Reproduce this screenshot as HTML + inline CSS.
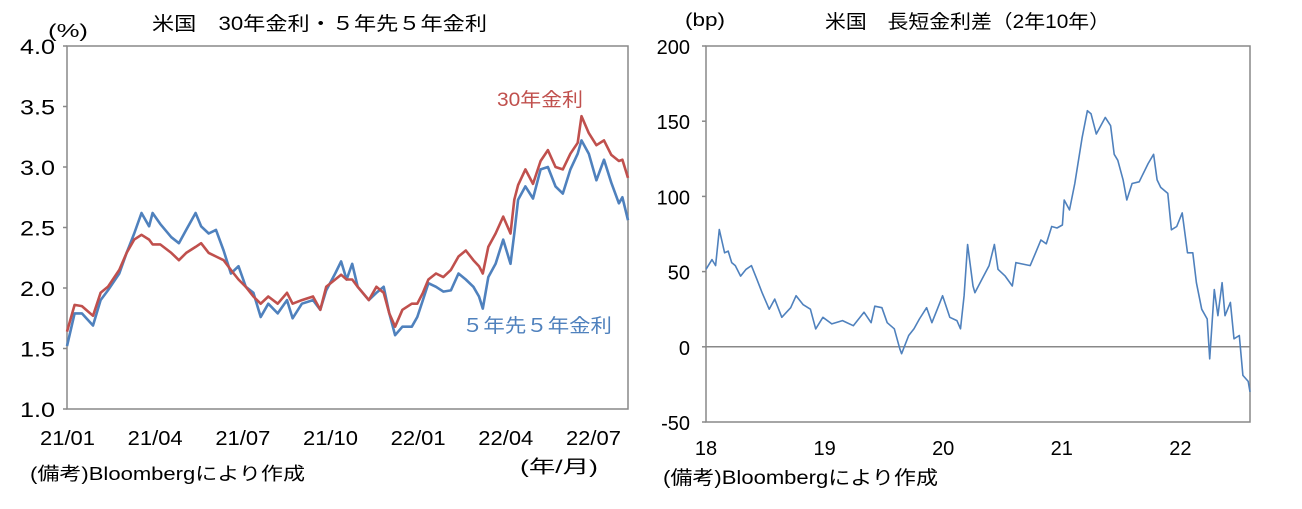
<!DOCTYPE html>
<html><head><meta charset="utf-8">
<style>
body{margin:0;background:#fff;width:1302px;height:504px;overflow:hidden;font-family:"Liberation Sans","Noto Sans CJK JP",sans-serif;}
svg text{font-family:"Liberation Sans","Noto Sans CJK JP",sans-serif;fill:#000;}
</style></head><body>
<svg id="c" width="1302" height="504">
<g id="left"></g>
<g id="right"></g>
</svg>
<script>
// Left chart data (months since 2021/01)
const leftMonths=[0,.26,.51,.89,1.15,1.40,1.79,2.04,2.30,2.55,2.81,2.93,3.19,3.57,3.83,4.08,4.40,4.59,4.85,5.10,5.36,5.61,5.87,6.12,6.38,6.63,6.89,7.21,7.53,7.72,8.04,8.42,8.67,8.87,9.18,9.38,9.57,9.76,9.95,10.33,10.59,10.84,11.03,11.23,11.48,11.80,11.99,12.18,12.37,12.63,12.88,13.14,13.40,13.65,13.91,14.10,14.23,14.42,14.67,14.93,15.18,15.31,15.44,15.69,15.95,16.21,16.46,16.72,16.97,17.23,17.48,17.61,17.86,18.12,18.38,18.63,18.89,19.01,19.20];
const fwd5y5y=[1.52,1.79,1.79,1.69,1.90,1.98,2.12,2.29,2.45,2.62,2.51,2.62,2.53,2.42,2.37,2.48,2.62,2.51,2.45,2.48,2.31,2.12,2.18,2.01,1.96,1.76,1.87,1.79,1.90,1.75,1.87,1.90,1.82,1.98,2.12,2.22,2.07,2.20,2.01,1.90,1.96,2.01,1.79,1.61,1.68,1.68,1.76,1.90,2.04,2.01,1.97,1.98,2.12,2.07,2.01,1.93,1.83,2.09,2.20,2.40,2.20,2.45,2.73,2.84,2.74,2.98,3.00,2.84,2.78,2.98,3.11,3.22,3.11,2.89,3.06,2.87,2.70,2.75,2.56];
const yield30y=[1.64,1.86,1.85,1.77,1.96,2.01,2.15,2.29,2.40,2.44,2.40,2.36,2.36,2.29,2.23,2.29,2.34,2.37,2.29,2.26,2.23,2.15,2.07,2.01,1.93,1.87,1.93,1.87,1.96,1.87,1.90,1.93,1.82,2.01,2.07,2.11,2.07,2.07,2.01,1.90,2.01,1.96,1.79,1.68,1.82,1.87,1.87,1.96,2.07,2.12,2.09,2.15,2.26,2.31,2.23,2.18,2.12,2.34,2.45,2.59,2.45,2.73,2.85,2.98,2.86,3.05,3.14,3.00,2.98,3.11,3.20,3.42,3.28,3.18,3.22,3.10,3.05,3.06,2.91];
const leftYTicks=["4.0","3.5","3.0","2.5","2.0","1.5","1.0"];
const leftXTicks=["21/01","21/04","21/07","21/10","22/01","22/04","22/07"];
// Right chart data (year, bp)
const spreadYears=[18.000,18.051,18.081,18.112,18.157,18.187,18.217,18.247,18.292,18.338,18.383,18.428,18.473,18.533,18.579,18.639,18.714,18.760,18.820,18.880,18.925,18.986,19.061,19.151,19.242,19.332,19.392,19.423,19.483,19.528,19.588,19.634,19.649,19.709,19.754,19.799,19.860,19.905,19.950,19.995,20.056,20.116,20.146,20.176,20.206,20.251,20.267,20.327,20.387,20.432,20.462,20.523,20.583,20.613,20.673,20.734,20.779,20.824,20.869,20.915,20.960,21.005,21.020,21.065,21.110,21.141,21.171,21.216,21.246,21.291,21.367,21.412,21.442,21.472,21.517,21.548,21.593,21.653,21.728,21.774,21.804,21.834,21.894,21.924,21.969,22.015,22.060,22.105,22.135,22.180,22.226,22.247,22.286,22.316,22.352,22.376,22.422,22.452,22.497,22.527,22.572,22.587];
const spreadBp=[51.5,58,54,78,62.5,63.6,56,54,47,51.5,54,45,36,25,31.7,19.6,26,34,28,25,11.9,19.6,15.2,17.4,14,23,16,27,26,16,12,-1.3,-4.6,7.5,12,18.5,26,16,25,34,19.6,17.4,12,34,68,40.4,36,45,54,68,51.5,47,40.4,56,55,54,62.5,71,68.5,80,79,81,97.6,91,108.6,124,139,157,155,141.5,152.5,147,128,124,111,97.6,108.6,109.7,121.8,128,111,106,102,77.8,80,89,62.5,62.5,42.6,25,18.5,-8,38,20.7,42.6,20.7,29.5,5.3,7.5,-19,-23,-30];
const rightYTicks=[200,150,100,50,0,-50];
const rightXTicks=[18,19,20,21,22];

const NS="http://www.w3.org/2000/svg";
function mk(parent,tag,attrs,text){const e=document.createElementNS(NS,tag);for(const k in attrs)e.setAttribute(k,attrs[k]);if(text!==undefined)e.textContent=text;parent.appendChild(e);return e;}

// ---- Left chart ----
const L=document.getElementById('left');
const lx0=67,lx1=628,ly0=46,ly1=409,lMonthsSpan=19.2;
const lxs=m=>lx0+m/lMonthsSpan*(lx1-lx0);
const lys=v=>ly1-(v-1.0)/3.0*(ly1-ly0);
let el=mk(L,'rect',{x:lx0,y:ly0,width:lx1-lx0,height:ly1-ly0,fill:'none',stroke:'#888','stroke-width':1.5});


leftYTicks.forEach(t=>{const y=lys(parseFloat(t));
 el=mk(L,'line',{x1:lx0-4,x2:lx0,y1:y,y2:y,stroke:'#888','stroke-width':1.5});
 
 
 el=mk(L,'text',{x:20,y:y+8,'font-size':21,textLength:35,lengthAdjust:'spacingAndGlyphs'},t);
 
 });
leftXTicks.forEach((t,i)=>{const x=lxs(i*3);
 el=mk(L,'text',{x:x-27,y:445,'font-size':20,textLength:55,lengthAdjust:'spacingAndGlyphs'},t);
 
 });
function lpath(vals,color,name){let d=vals.map((v,i)=>(i?'L':'M')+lxs(leftMonths[i]).toFixed(1)+','+lys(v).toFixed(1)).join('');
 const p=mk(L,'path',{d:d,fill:'none',stroke:color,'stroke-width':2.6,'stroke-linejoin':'round'});
 
 }
lpath(fwd5y5y,'#4f81bd','line-5y5y-forward');
lpath(yield30y,'#c0504d','line-30y-yield');

// ---- Right chart ----
const R=document.getElementById('right');
const rx0=706,rx1=1250,ry0=46,ry1=422,rYearSpan=4.587;
const rxs=y=>rx0+(y-18)/rYearSpan*(rx1-rx0);
const rys=v=>ry1-(v+50)/250*(ry1-ry0);
el=mk(R,'rect',{x:rx0,y:ry0,width:rx1-rx0,height:ry1-ry0,fill:'none',stroke:'#888','stroke-width':1.5});


rightYTicks.forEach(t=>{const y=rys(t);
 el=mk(R,'line',{x1:rx0-4,x2:rx0,y1:y,y2:y,stroke:'#888','stroke-width':1.5});
 
 
 el=mk(R,'text',{x:690,y:y+8,'text-anchor':'end','font-size':20},String(t));
 
 });
el=mk(R,'line',{x1:rx0,x2:rx1,y1:rys(0),y2:rys(0),stroke:'#888','stroke-width':1.5});


rightXTicks.forEach(t=>{const x=rxs(t);
 el=mk(R,'text',{x:x,y:455,'text-anchor':'middle','font-size':20},String(t));
 
 });
{let d=spreadBp.map((v,i)=>(i?'L':'M')+rxs(spreadYears[i]).toFixed(1)+','+rys(v).toFixed(1)).join('');
 const p=mk(R,'path',{d:d,fill:'none',stroke:'#4f81bd','stroke-width':1.6,'stroke-linejoin':'round'});
 
 }
</script>
<svg width="1302" height="504" style="position:absolute;left:0;top:0">
<text x="152" y="30" font-size="19" textLength="335" lengthAdjust="spacingAndGlyphs">米国　30年金利・５年先５年金利</text>
<text x="48" y="37" font-size="18" textLength="40" lengthAdjust="spacingAndGlyphs">(%)</text>
<text x="497" y="106" font-size="19" textLength="86" lengthAdjust="spacingAndGlyphs" style="fill:#c0504d">30年金利</text>
<text x="462" y="332" font-size="19" textLength="150" lengthAdjust="spacingAndGlyphs" style="fill:#4f81bd">５年先５年金利</text>
<text x="520" y="473" font-size="18" textLength="78" lengthAdjust="spacingAndGlyphs">(年/月)</text>
<text x="30" y="480" font-size="18" textLength="275" lengthAdjust="spacingAndGlyphs">(備考)Bloombergにより作成</text>
<text x="685" y="26" font-size="18" textLength="40" lengthAdjust="spacingAndGlyphs">(bp)</text>
<text x="825" y="28" font-size="19" textLength="285" lengthAdjust="spacingAndGlyphs">米国　長短金利差（2年10年）</text>
<text x="663" y="484" font-size="19" textLength="275" lengthAdjust="spacingAndGlyphs">(備考)Bloombergにより作成</text>
</svg>
</body></html>
